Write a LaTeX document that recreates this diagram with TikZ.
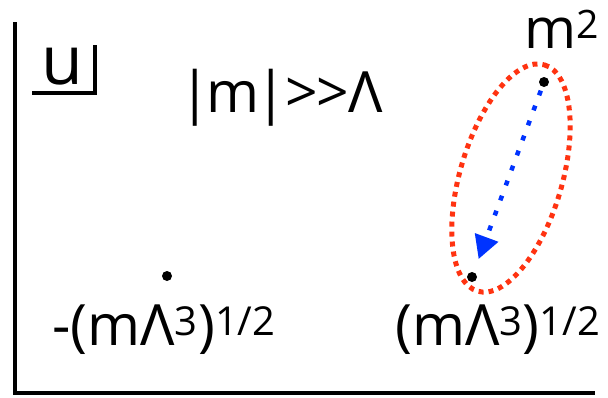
\documentclass[tikz,border=0pt]{standalone}
\usepackage{fontspec}
\setmainfont{Open Sans}
\usetikzlibrary{arrows.meta}
\definecolor{ellred}{HTML}{FF3311}
\definecolor{arrblue}{HTML}{0033FF}
\tikzset{
  axisline/.style={line width=4pt},
  pt/.style={circle, fill=black, inner sep=0pt, minimum size=10pt},
  lbl/.style={inner sep=0pt, anchor=base},
}
\begin{document}
\begin{tikzpicture}[x=1pt,y=-1pt]
\useasboundingbox (0,0) rectangle (608,397);
% axes
\coordinate (ytop) at (15,22);
\coordinate (orig) at (15,393);
\coordinate (xend) at (595,393);
\draw[axisline] (ytop) -- (orig) -- (xend);
% u label with corner
\node[lbl, font=\fontsize{68}{70}\selectfont] (u) at (62,84) {u};
\coordinate (c1) at (32,93);
\coordinate (c2) at (95,93);
\coordinate (c3) at (95,45);
\draw[line width=3.5pt] (c1) -- (c2) -- (c3);
% condition
\node[lbl, font=\fontsize{57}{60}\selectfont] (cond) at (281,112) {|\kern-4pt m\kern-4pt|\kern-2pt>{}\kern-1pt>\kern-1ptΛ};
% points
\node[pt] (top) at (544,82) {};
\node[pt] (rb) at (472,277) {};
\node[pt] (lb) at (167,276) {};
% labels
\node[lbl, font=\fontsize{56}{58}\selectfont] (m2) at (562,48) {m\textsuperscript{2}};
\node[lbl, font=\fontsize{57}{60}\selectfont] (ll) at (164,345) {-(mΛ\textsuperscript{3})\textsuperscript{1/2}};
\node[lbl, font=\fontsize{57}{60}\selectfont] (rl) at (498,345) {(mΛ\textsuperscript{3})\textsuperscript{1/2}};
% ellipse
\coordinate (ec) at (511,178);
\draw[ellred, line width=5pt, dash pattern=on 5pt off 5pt, rotate around={73.6:(ec)}] (ec) ellipse [x radius=118, y radius=51];
% arrow
\draw[arrblue, line width=4.5pt, dash pattern=on 5pt off 11pt, shorten <=4pt, shorten >=14pt,
  -{Triangle[length=23pt,width=24pt]}] (top) -- (rb);
\end{tikzpicture}
\end{document}
